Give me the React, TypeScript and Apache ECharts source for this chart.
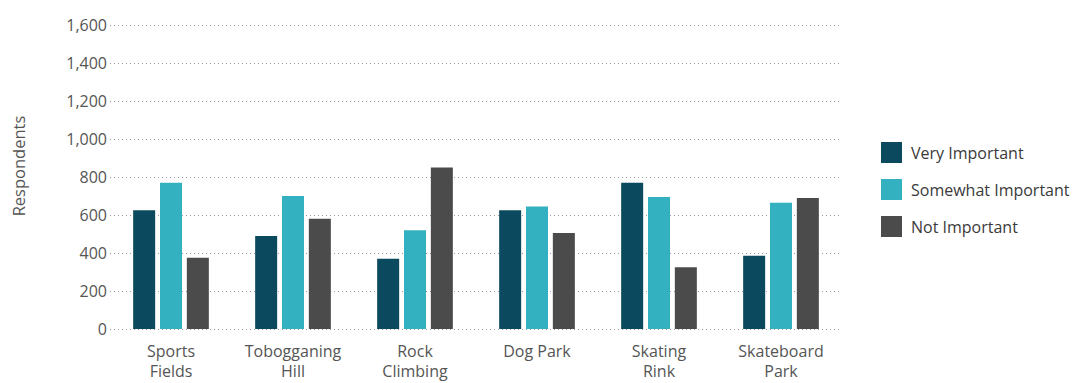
import React, { useEffect, useRef } from "react";
import * as echarts from "echarts";

const categories = ["Sports\nFields", "Tobogganing\nHill", "Rock\nClimbing", "Dog Park", "Skating\nRink", "Skateboard\nPark"];
const veryImportant = [625, 490, 370, 625, 770, 385];
const somewhatImportant = [770, 700, 520, 645, 695, 665];
const notImportant = [375, 580, 850, 505, 325, 690];
const yTicks = { min: 0, max: 1600, interval: 200 };

const FONT = "'Open Sans'";
const TEXT = "#555555";

export default function App() {
  const ref = useRef<HTMLDivElement>(null);
  useEffect(() => {
    const chart = echarts.init(ref.current!, undefined, { renderer: "svg" });
    const bar = (name: string, data: number[], color: string) => ({
      name,
      type: "bar",
      data,
      barWidth: 22,
      barGap: "22%",
      itemStyle: { color },
    });
    chart.setOption({
      animation: false,
      textStyle: { fontFamily: FONT },
      grid: {
        left: 110,
        width: 732,
        top: 25,
        height: 304,
        containLabel: false,
        outerBoundsMode: "none",
      },
      legend: {
        orient: "vertical",
        left: 881,
        top: 142,
        padding: 0,
        itemWidth: 21,
        itemHeight: 21,
        itemGap: 16,
        icon: "rect",
        textStyle: { fontFamily: FONT, fontSize: 16, color: "#3a3a3a", padding: [0, 0, 0, 4] },
        data: ["Very Important", "Somewhat Important", "Not Important"],
      },
      xAxis: {
        type: "category",
        data: categories,
        axisLine: { show: false },
        axisTick: { show: false },
        axisLabel: {
          interval: 0,
          hideOverlap: false,
          color: TEXT,
          fontSize: 16,
          fontFamily: FONT,
          lineHeight: 20,
          margin: 12,
        },
      },
      yAxis: {
        type: "value",
        min: yTicks.min,
        max: yTicks.max,
        interval: yTicks.interval,
        axisLine: { show: false },
        axisTick: { show: false },
        splitLine: { show: true, lineStyle: { type: [1, 3], color: "#9a9a9a", width: 1 } },
        axisLabel: {
          color: TEXT,
          fontSize: 16,
          fontFamily: FONT,
          margin: 3,
          verticalAlign: "middle",
          padding: [0, 0, 8, 0],
          formatter: (v: number) => v.toLocaleString("en-US"),
        },
      },
      graphic: [
        {
          type: "text",
          x: 18,
          y: 166,
          rotation: Math.PI / 2,
          style: {
            text: "Respondents",
            fill: TEXT,
            font: `16.5px ${FONT}`,
            align: "center",
            verticalAlign: "middle",
          },
        },
      ],
      series: [
        bar("Very Important", veryImportant, "#0b4a5e"),
        bar("Somewhat Important", somewhatImportant, "#33b1c0"),
        bar("Not Important", notImportant, "#4b4b4b"),
      ],
    });
    return () => chart.dispose();
  }, []);
  return <div ref={ref} style={{ position: "absolute", left: 0, top: 0, width: 1075, height: 383 }} />;
}
